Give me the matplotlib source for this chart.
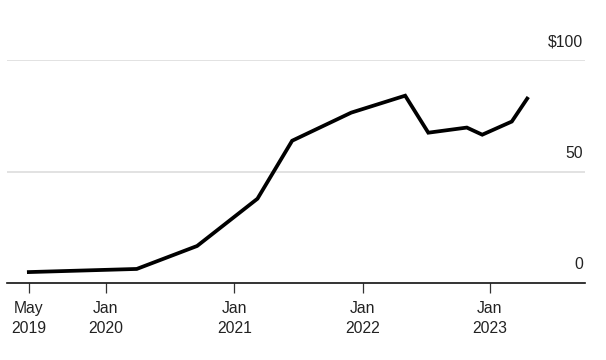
import matplotlib
matplotlib.use('Agg')
import matplotlib.pyplot as plt
import matplotlib.transforms as mtransforms

# quarterly values (x in fractional years)
dates = [2019.40, 2020.24, 2020.71, 2021.18, 2021.45, 2021.91,
         2022.33, 2022.51, 2022.81, 2022.93, 2023.16, 2023.28]
values = [4.9, 6.3, 16.6, 37.8, 63.8, 76.4,
          84.0, 67.4, 69.7, 66.5, 72.4, 82.7]

tick_pos = [2019.40, 2020.0, 2021.0, 2022.0, 2022.99]
tick_labels = ['May\n2019', 'Jan\n2020', 'Jan\n2021', 'Jan\n2022', 'Jan\n2023']
y_grid = [50, 100]
y_labels = ['0', '50', '$100']

plt.rcParams['font.family'] = ['Liberation Sans', 'DejaVu Sans']

fig = plt.figure(figsize=(6.06, 3.6), dpi=100)
ax = fig.add_axes([7 / 606, 77 / 360, 578 / 606, 223 / 360])

ax.plot(dates, values, color='black', lw=2.7, solid_joinstyle='miter', zorder=3)

ax.set_xlim(2019.23, 2023.73)
ax.set_ylim(0, 100)

for g in y_grid:
    ax.axhline(g, color='#dddddd', lw=1.2, zorder=1)

trans = mtransforms.blended_transform_factory(ax.transAxes, ax.transData)
for v, lab in zip([0, 50, 100], y_labels):
    ax.text(0.997, v + 4.8, lab.replace('$', r'\$'), transform=trans,
            ha='right', va='bottom', fontsize=11.3, color='#222222')

for s in ['top', 'right', 'left']:
    ax.spines[s].set_visible(False)
ax.spines['bottom'].set_linewidth(1.2)
ax.spines['bottom'].set_color('#111111')

ax.set_yticks([])
ax.set_xticks(tick_pos)
ax.set_xticklabels(tick_labels, fontsize=11.3, color='#222222', linespacing=1.45)
ax.tick_params(axis='x', length=7, width=0.9, color='#333333', pad=6)

fig.savefig('out.png', dpi=100)
